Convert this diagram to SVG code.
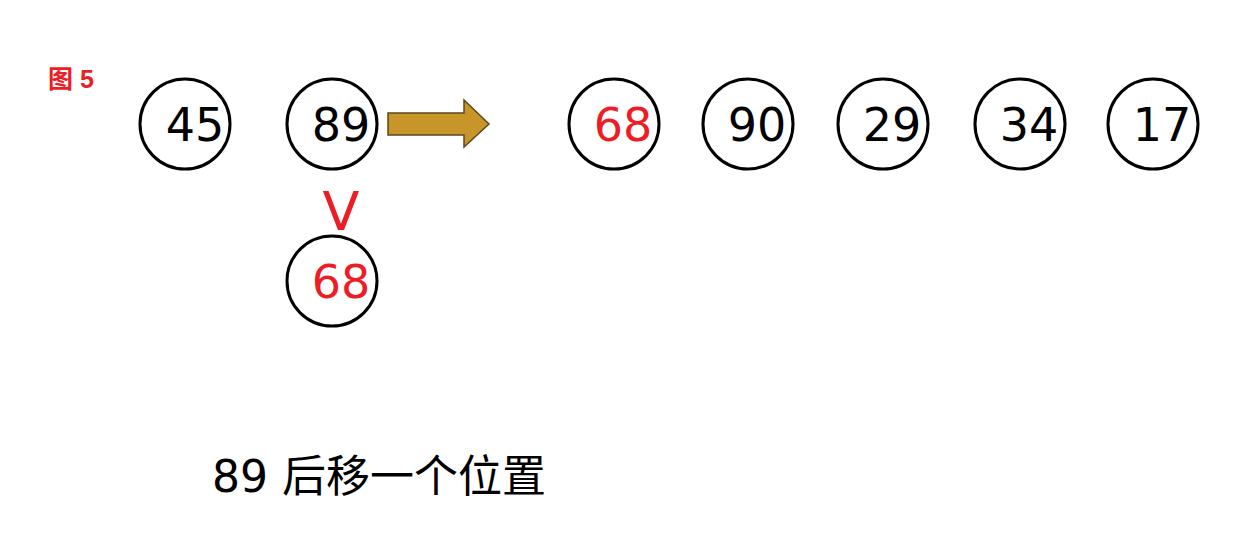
<svg xmlns="http://www.w3.org/2000/svg" width="1254" height="548" viewBox="0 0 1254 548">
<style>
.c{fill:#fff;stroke:#000;stroke-width:3}
.t{font-family:"DejaVu Sans","Noto Sans CJK SC",sans-serif;font-size:46px;text-anchor:middle}
.k{fill:#000}
.r{fill:#ee1c25}
</style>
<rect width="1254" height="548" fill="#fff"/>
<text x="48" y="88" class="r" style="font-family:'Liberation Sans','Noto Sans CJK SC',sans-serif;font-size:25px;font-weight:bold">图 5</text>
<g id="n45"><circle class="c" cx="185" cy="124" r="45"/><text class="t k" x="195" y="141">45</text></g>
<g id="n89"><circle class="c" cx="332" cy="124" r="45"/><text class="t k" x="341" y="141">89</text></g>
<g id="n68a"><circle class="c" cx="614" cy="124" r="45"/><text class="t r" x="623" y="141">68</text></g>
<g id="n90"><circle class="c" cx="748" cy="124" r="45"/><text class="t k" x="757" y="141">90</text></g>
<g id="n29"><circle class="c" cx="883" cy="124" r="45"/><text class="t k" x="892" y="141">29</text></g>
<g id="n34"><circle class="c" cx="1020" cy="124" r="45"/><text class="t k" x="1029" y="141">34</text></g>
<g id="n17"><circle class="c" cx="1153" cy="124" r="45"/><text class="t k" x="1162" y="141">17</text></g>
<g id="n68b"><circle class="c" cx="332" cy="281" r="45"/><text class="t r" x="341" y="298">68</text></g>
<g id="connectors">
<polygon points="388,113 464,113 464,100 489,124 464,147 464,135 388,135" fill="#c8952a" stroke="#5a4a1a" stroke-width="1.5"/>
<text x="341" y="230" class="r" style="font-family:'DejaVu Sans',sans-serif;font-size:54px;text-anchor:middle">V</text>
</g>
<text x="212" y="492" class="k" style="font-family:'DejaVu Sans','Noto Sans CJK SC',sans-serif;font-size:44px">89 后移一个位置</text>
</svg>
